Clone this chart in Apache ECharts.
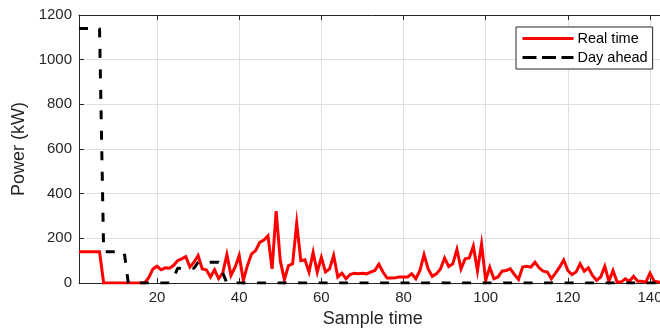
<!DOCTYPE html>
<html>
<head>
<meta charset="utf-8">
<script src="https://cdn.jsdelivr.net/npm/echarts@6/dist/echarts.min.js"></script>
<style>
  html, body { margin: 0; padding: 0; background: #fff; overflow: hidden; }
  #chart { width: 680px; height: 333px; }
</style>
</head>
<body>
<div id="chart"></div>
<script>
// sample index runs 1..144 (one value per 10 min)
const realTime = [
  140, 140, 140, 140, 140, 140, 0, 0, 0, 0, 0, 0, 0, 0, 0, 0, 0,
  25, 63, 75, 59, 68, 66, 78, 100, 108, 118, 71, 93, 123, 63, 59, 27, 59, 20, 45,
  127, 34, 71, 123, 12, 78, 130, 145, 182, 192, 211, 63, 322, 100, 15, 78, 86, 268,
  100, 104, 49, 137, 49, 115, 49, 63, 123, 27, 44, 19, 38, 44, 41, 44, 41, 49, 56,
  84, 49, 22, 22, 24, 27, 27, 27, 41, 19, 56, 127, 63, 30, 41, 63, 112, 74, 86, 150,
  63, 108, 112, 165, 55, 174, 12, 71, 19, 27, 53, 56, 63, 38, 16, 71, 75, 71, 93,
  68, 53, 49, 19, 44, 71, 103, 56, 38, 49, 86, 53, 68, 34, 12, 27, 75, 8, 56, 4,
  4, 19, 8, 30, 8, 8, 4, 44, 8, 5, 0, 0
];
const dayAhead = [
  1140, 1140, 1140, 1140, 1140, 1140, 140, 140, 140, 140, 140, 140,
  0, 0, 0, 0, 0, 0, 0, 0, 0, 0, 0, 20, 66, 66, 66, 66, 66, 93, 93, 93, 93, 93, 93, 45,
  0, 0, 0, 0, 0, 0, 0, 0, 0, 0, 0, 0, 0, 0, 0, 0, 0, 0, 0, 0, 0, 0, 0, 0, 0, 0, 0, 0,
  0, 0, 0, 0, 0, 0, 0, 0, 0, 0, 0, 0, 0, 0, 0, 0, 0, 0, 0, 0, 0, 0, 0, 0, 0, 0, 0, 0,
  0, 0, 0, 0, 0, 0, 0, 0, 0, 0, 0, 0, 0, 0, 0, 0, 0, 0, 0, 0, 0, 0, 0, 0, 0, 0, 0, 0,
  0, 0, 0, 0, 0, 0, 0, 0, 0, 0, 0, 0, 0, 0, 0, 0, 0, 0, 0, 0, 0, 0, 0, 0
];
const xTicks = [20, 40, 60, 80, 100, 120, 140];
const seriesNames = ['Real time', 'Day ahead'];

const ink = '#262626';
const gridColor = '#dfdfdf';
const font = '"Liberation Sans", Arial, Helvetica, sans-serif';

const withIndex = arr => arr.map((v, i) => [i + 1, v]);
// legend shows the line only, no symbol
const noSymbol = { color: 'rgba(0,0,0,0)', borderWidth: 0, opacity: 0 };

const chart = echarts.init(document.getElementById('chart'), null, { renderer: 'canvas' });
chart.setOption({
  animation: false,
  textStyle: { fontFamily: font },
  grid: { left: 79, top: 15, right: 13.6, bottom: 47, containLabel: false },
  legend: {
    left: 516, top: 27,
    orient: 'vertical',
    padding: [4, 5, 4, 5],
    itemGap: 4,
    itemWidth: 51, itemHeight: 14,
    backgroundColor: '#fff',
    borderColor: ink, borderWidth: 1, borderRadius: 0,
    textStyle: { color: '#000', fontSize: 14.5, fontFamily: font, padding: [0, 0, 0, -1] },
    data: [
      { name: seriesNames[0], itemStyle: noSymbol, lineStyle: { width: 3 } },
      { name: seriesNames[1], itemStyle: noSymbol, lineStyle: { width: 3, type: [14, 5.5] } }
    ]
  },
  xAxis: [{
    type: 'value', min: 1, max: 144, position: 'bottom',
    name: 'Sample time', nameLocation: 'middle', nameGap: 27,
    nameTextStyle: { color: ink, fontSize: 18, fontFamily: font },
    axisLine: { lineStyle: { color: ink, width: 1 } },
    axisTick: { inside: true, length: 5, customValues: xTicks, lineStyle: { color: ink } },
    axisLabel: { customValues: xTicks, color: ink, fontSize: 15, margin: 7, fontFamily: font },
    splitLine: { show: true, lineStyle: { color: gridColor, width: 1 } }
  }, {
    type: 'value', min: 1, max: 144, position: 'top',
    axisLine: { lineStyle: { color: ink, width: 1 } },
    axisTick: { inside: true, length: 5, customValues: xTicks, lineStyle: { color: ink } },
    axisLabel: { show: false },
    splitLine: { show: false }
  }],
  yAxis: {
    type: 'value', min: 0, max: 1200, interval: 200,
    name: 'Power (kW)', nameLocation: 'middle', nameGap: 35,
    nameTextStyle: { color: ink, fontSize: 18, fontFamily: font },
    axisLine: { show: true, lineStyle: { color: ink, width: 1 } },
    axisTick: { show: true, inside: true, length: 5, lineStyle: { color: ink } },
    axisLabel: { color: ink, fontSize: 15, margin: 7, fontFamily: font, formatter: v => String(v) },
    splitLine: { show: true, lineStyle: { color: gridColor, width: 1 } }
  },
  series: [{
    name: seriesNames[0], type: 'line', xAxisIndex: 0,
    data: withIndex(realTime),
    symbol: 'none',
    lineStyle: { color: '#ff0000', width: 3, join: 'miter' },
    itemStyle: { color: '#ff0000' }
  }, {
    name: seriesNames[1], type: 'line', xAxisIndex: 0,
    data: withIndex(dayAhead),
    symbol: 'none',
    lineStyle: { color: '#000', width: 3, type: [9, 11.5], cap: 'butt' },
    itemStyle: { color: '#000' }
  }]
});
</script>
</body>
</html>
